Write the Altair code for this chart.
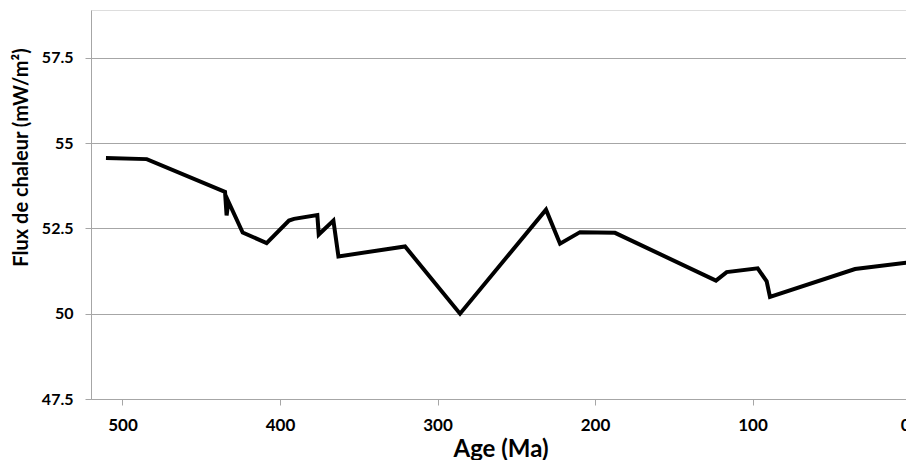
import altair as alt
import pandas as pd

ages = [510.5, 484.6, 434.9, 433.9, 432.8, 423.7, 408.5, 394.3, 391.1, 376.3,
        375.4, 366.1, 362.9, 320.6, 285.7, 231.1, 222.2, 209.5, 187.3, 123.2,
        116.4, 96.7, 91.0, 88.9, 34.9, 0.0]
flux = [54.56, 54.53, 53.57, 52.88, 53.29, 52.38, 52.07, 52.73, 52.78, 52.89,
        52.32, 52.73, 51.68, 51.97, 50.0, 53.05, 52.05, 52.39, 52.37, 50.97,
        51.22, 51.33, 50.95, 50.49, 51.31, 51.51]
x_ticks = [500, 400, 300, 200, 100, 0]
y_ticks = [47.5, 50, 52.5, 55, 57.5]

df = pd.DataFrame({"age": ages, "flux": flux, "i": range(len(ages))})

FONT = "Lato"
GRID = "#a6a6a6"

chart = alt.Chart(df).mark_line(color="black", strokeWidth=4).encode(
    x=alt.X("age:Q",
            scale=alt.Scale(domain=[520, 0], nice=False, zero=False),
            axis=alt.Axis(values=x_ticks, grid=False, title="Age (Ma)",
                          domainColor=GRID, tickColor=GRID, tickSize=6,
                          labelPadding=12, labelFontSize=17, labelFontWeight="bold",
                          labelFont=FONT, labelColor="#000000",
                          titleFont=FONT, titleFontSize=24, titleFontWeight="bold",
                          titleColor="#000000", titleY=62, titleBaseline="bottom")),
    y=alt.Y("flux:Q",
            scale=alt.Scale(domain=[47.5, 58.9], nice=False, zero=False),
            axis=alt.Axis(values=y_ticks, format=".1~f", grid=True, gridColor=GRID,
                          domainColor=GRID, tickColor=GRID, tickSize=6,
                          title="Flux de chaleur (mW/m²)",
                          labelPadding=12, labelFontSize=16, labelFontWeight="bold",
                          labelFont=FONT, labelColor="#000000",
                          titleFont=FONT, titleFontSize=20, titleFontWeight="bold",
                          titleColor="#000000", titleX=-70, titleY=147,
                          titleBaseline="middle", titleAlign="center")),
    order="i:Q",
).properties(
    width=819, height=389,
    autosize=alt.AutoSizeParams(type="none"),
    padding={"left": 83, "top": 2, "right": -4, "bottom": 61},
).configure_view(stroke=None).configure(background="white")

chart.save("out.html", embed_options={"renderer": "svg", "actions": False})
